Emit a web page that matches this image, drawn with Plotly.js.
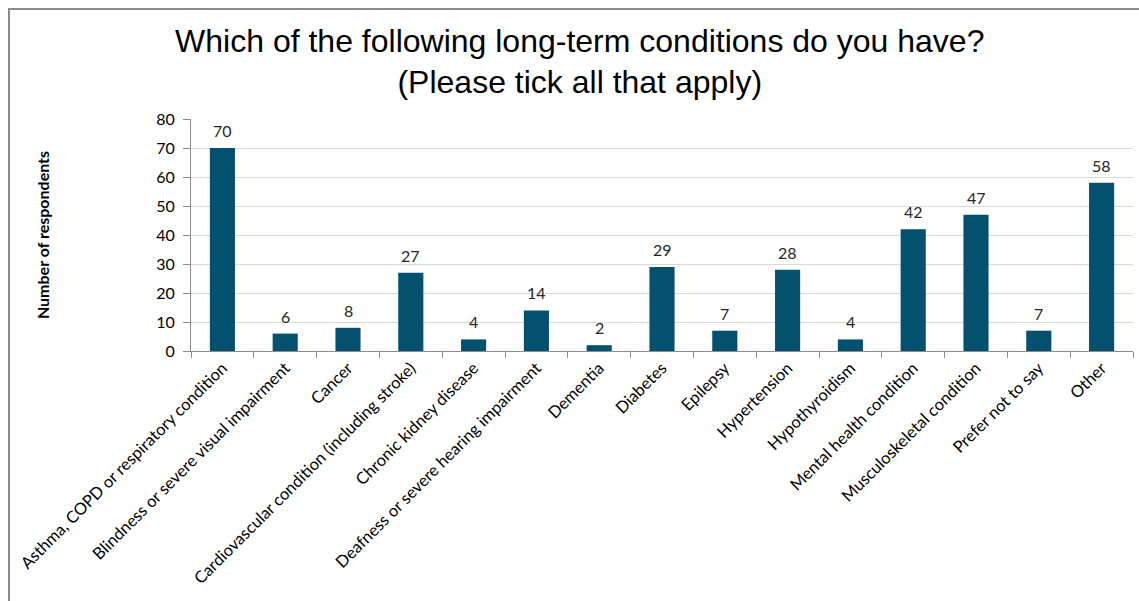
<!DOCTYPE html>
<html>
<head>
<meta charset="utf-8">
<script src="https://cdn.plot.ly/plotly-3.0.1.min.js"></script>
<style>
  html, body { margin: 0; padding: 0; background: #ffffff; }
  #frame {
    position: absolute; left: 8px; top: 8px; width: 1140px; height: 600px;
    border-left: 2px solid #8c8c8c; border-top: 2px solid #8c8c8c;
    pointer-events: none; z-index: 5;
  }
  #chart { width: 1139px; height: 601px; }
</style>
</head>
<body>
<div id="frame"></div>
<div id="chart"></div>
<script>
// Long-term conditions reported by respondents
const conditions = [
  "Asthma, COPD or respiratory condition",
  "Blindness or severe visual impairment",
  "Cancer",
  "Cardiovascular condition (including stroke)",
  "Chronic kidney disease",
  "Deafness or severe hearing impairment",
  "Dementia",
  "Diabetes",
  "Epilepsy",
  "Hypertension",
  "Hypothyroidism",
  "Mental health condition",
  "Musculoskeletal condition",
  "Prefer not to say",
  "Other"
];
const respondents = [70, 6, 8, 27, 4, 14, 2, 29, 7, 28, 4, 42, 47, 7, 58];
const yTicks = [0, 10, 20, 30, 40, 50, 60, 70, 80];

const labelFont = { family: "Lato, sans-serif", size: 16, color: "#262626" };

const barTrace = {
  type: "bar",
  x: conditions,
  y: respondents,
  marker: { color: "#03506f" },
  hoverinfo: "x+y"
};

// value labels sitting just above each bar
const valueLabels = conditions.map((c, i) => ({
  x: c,
  y: respondents[i],
  xref: "x",
  yref: "y",
  text: String(respondents[i]),
  showarrow: false,
  yanchor: "bottom",
  yshift: 6,
  font: labelFont
}));

const layout = {
  width: 1139,
  height: 601,
  paper_bgcolor: "#ffffff",
  plot_bgcolor: "#ffffff",
  margin: { l: 191, r: 6, t: 119, b: 250 },
  showlegend: false,
  bargap: 0.6,
  annotations: valueLabels,
  title: {
    text: "Which of the following long-term conditions do you have?<br>(Please tick all that apply)",
    font: { family: "Liberation Sans, Arial, sans-serif", size: 32, color: "#000000" },
    x: 0.509,
    xanchor: "center",
    y: 0.914,
    yanchor: "top"
  },
  xaxis: {
    type: "category",
    tickangle: -45,
    tickson: "boundaries",
    ticks: "outside",
    ticklen: 6,
    tickcolor: "#8c8c8c",
    showline: true,
    linecolor: "#8c8c8c",
    linewidth: 1,
    showgrid: false,
    tickfont: { family: "Lato, sans-serif", size: 16.5, color: "#000000" },
    automargin: false
  },
  yaxis: {
    range: [0, 80],
    tickvals: yTicks,
    ticktext: yTicks.map(String),
    ticks: "outside",
    ticklen: 7,
    ticklabelstandoff: 5,
    tickcolor: "#8c8c8c",
    showline: true,
    linecolor: "#8c8c8c",
    linewidth: 1,
    showgrid: true,
    gridcolor: "#d9d9d9",
    gridwidth: 1,
    zeroline: false,
    tickfont: { family: "Lato, sans-serif", size: 16, color: "#000000" },
    title: {
      text: "<b>Number of respondents</b>",
      font: { family: "Lato, sans-serif", size: 16, color: "#000000" },
      standoff: 102
    },
    automargin: false
  }
};

Plotly.newPlot("chart", [barTrace], layout, { displayModeBar: false, staticPlot: true });
</script>
</body>
</html>
